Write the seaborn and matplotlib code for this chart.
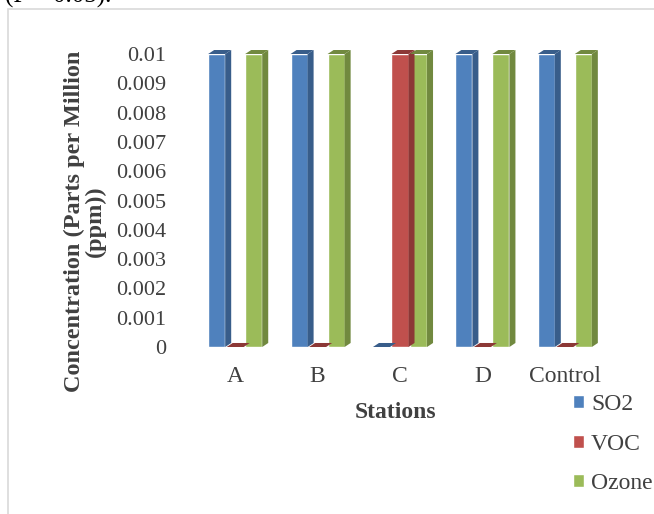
import matplotlib
matplotlib.use('Agg')
import matplotlib.pyplot as plt
import matplotlib.patches as mpatches
from matplotlib.ticker import FuncFormatter
import seaborn as sns
import pandas as pd

stations = ['A', 'B', 'C', 'D', 'Control']
series = ['SO2', 'VOC', 'Ozone']
so2 = [0.01, 0.01, 0.0, 0.01, 0.01]
voc = [0.0, 0.0, 0.01, 0.0, 0.0]
ozone = [0.01, 0.01, 0.01, 0.01, 0.01]
yticks = [0, 0.001, 0.002, 0.003, 0.004, 0.005, 0.006, 0.007, 0.008, 0.009, 0.01]

front = ['#4F81BD', '#C0504D', '#9BBB59']
shade = ['#385D8A', '#8C3836', '#71893F']

data = pd.DataFrame({
    'station': stations * 3,
    'series': ['SO2'] * 5 + ['VOC'] * 5 + ['Ozone'] * 5,
    'value': so2 + voc + ozone,
})

sns.set_style('white')
plt.rcParams['font.family'] = ['Liberation Serif', 'DejaVu Serif']

fig = plt.figure(figsize=(6.54, 5.14), dpi=100)
fig.patches.append(mpatches.Rectangle((8 / 654, -0.1), 1.2, 1 - 9 / 514 + 0.1,
                                      transform=fig.transFigure, fill=False,
                                      edgecolor='#D9D9D9', linewidth=1.2))
# caption of the page above the chart, cut off by the crop
fig.text(0.008, 1 - 3 / 514, '(P < 0.05).', fontsize=18, color='#000000', va='baseline')

ax = fig.add_axes([0.2966, 0.3249, 0.63, 0.570])
sns.barplot(data=data, x='station', y='value', hue='series', order=stations,
            hue_order=series, palette=front, width=0.674, gap=0.08,
            saturation=1, ax=ax, legend=True)

# fake excel 3d look: side and top faces derived from each bar
dx = 0.073
dy = 0.000137
for i, container in enumerate(ax.containers):
    for bar in container:
        x0 = bar.get_x()
        w = bar.get_width()
        h = bar.get_height()
        side = mpatches.Polygon([(x0 + w, 0), (x0 + w + dx, dy), (x0 + w + dx, h + dy), (x0 + w, h)],
                                closed=True, facecolor=shade[i], edgecolor='none', clip_on=False, zorder=3)
        top = mpatches.Polygon([(x0, h), (x0 + dx, h + dy), (x0 + w + dx, h + dy), (x0 + w, h)],
                               closed=True, facecolor=shade[i], edgecolor='none', clip_on=False, zorder=3)
        ax.add_patch(side)
        ax.add_patch(top)
        bar.set_zorder(2)

ax.set_ylim(0, 0.01)
ax.set_xlim(-0.5, 4.5)
ax.set_yticks(yticks)
ax.yaxis.set_major_formatter(FuncFormatter(lambda v, p: '%g' % v))
ax.tick_params(axis='y', length=0, labelsize=16, labelcolor='#404040', pad=20)
ax.tick_params(axis='x', length=0, labelsize=17, labelcolor='#404040', pad=14)
for s in ax.spines.values():
    s.set_visible(False)

ax.set_xlabel('Stations', fontsize=17, fontweight='bold', color='#404040')
ax.xaxis.set_label_coords(0.49, -0.187)
ax.set_ylabel('Concentration (Parts per Million\n(ppm))', fontsize=17.5, fontweight='bold',
              color='#404040', linespacing=0.95)
ax.yaxis.set_label_coords(-0.214, 0.43)

ax.legend(loc='upper left', bbox_to_anchor=(0.876, 0.233), bbox_transform=fig.transFigure,
          frameon=False, fontsize=17, labelcolor='#404040', handlelength=0.47,
          handleheight=0.47, handletextpad=0.3, labelspacing=0.78, borderpad=0,
          borderaxespad=0)

fig.savefig('out.png', dpi=100)
